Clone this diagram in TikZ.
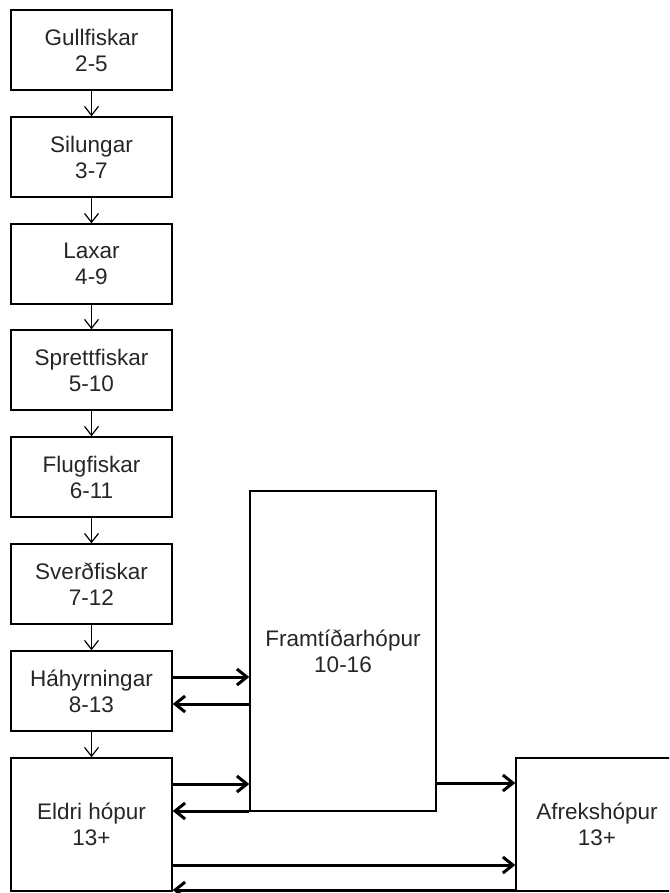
\documentclass[tikz,border=0pt]{standalone}
\usepackage{fontspec}
\setmainfont{Liberation Sans}
\usetikzlibrary{arrows.meta}
\begin{document}
\begin{tikzpicture}[x=1pt,y=-1pt,
  box/.style={draw, line width=1.4pt, rectangle, align=center, inner sep=0pt,
    font=\fontsize{22.5}{26}\selectfont, text=black!85},
  small/.style={box, minimum width=161pt, minimum height=80pt},
  thinarrow/.style={line width=1.2pt, -{Straight Barb[length=9pt,width=14pt,line width=1.2pt]}},
  boldarrow/.style={line width=3pt, -{Straight Barb[length=10pt,width=16pt]}}]
\useasboundingbox (0,0) rectangle (669,893);
\clip (0,0) rectangle (669,893);
\node[small] (g) at (91.5,50) {Gullfiskar\\2-5};
\node[small] (s) at (91.5,157) {Silungar\\3-7};
\node[small] (l) at (91.5,264) {Laxar\\4-9};
\node[small] (sp) at (91.5,370) {Sprettfiskar\\5-10};
\node[small] (f) at (91.5,477) {Flugfiskar\\6-11};
\node[small] (sv) at (91.5,584) {Sver\dh fiskar\\7-12};
\node[small] (h) at (91.5,691) {Háhyrningar\\8-13};
\node[box, minimum width=161pt, minimum height=133pt] (e) at (91.5,824.5) {Eldri hópur\\13+};
\node[box, minimum width=186pt, minimum height=320pt] (fr) at (343,651) {Framtíðarhópur\\10-16};
\node[box, minimum width=162pt, minimum height=133pt] (a) at (597,824.5) {Afrekshópur\\13+};
\draw[thinarrow] (g) -- (s);
\draw[thinarrow] (s) -- (l);
\draw[thinarrow] (l) -- (sp);
\draw[thinarrow] (sp) -- (f);
\draw[thinarrow] (f) -- (sv);
\draw[thinarrow] (sv) -- (h);
\draw[thinarrow] (h) -- (e);
\draw[boldarrow] (h.east |- 0,677) -- (fr.west |- 0,677);
\draw[boldarrow] (fr.west |- 0,704) -- (h.east |- 0,704);
\draw[boldarrow] (e.east |- 0,784) -- (fr.west |- 0,784);
\draw[boldarrow] (fr.west |- 0,811) -- (e.east |- 0,811);
\draw[boldarrow] (fr.east |- 0,783) -- (a.west |- 0,783);
\draw[boldarrow] (e.east |- 0,865) -- (a.west |- 0,865);
\draw[boldarrow] (a.west |- 0,890) -- (e.east |- 0,890);
\end{tikzpicture}
\end{document}
